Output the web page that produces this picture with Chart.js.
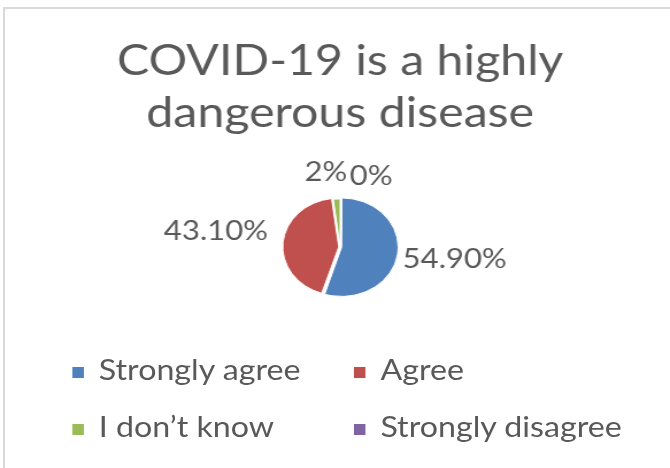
<!DOCTYPE html>
<html>
<head>
<meta charset="utf-8">
<script src="https://cdn.jsdelivr.net/npm/chart.js@4.4.1/dist/chart.umd.min.js"></script>
<style>
  html, body { margin: 0; padding: 0; background: #fff; }
  body { width: 670px; height: 468px; position: relative; overflow: hidden; font-family: Lato, sans-serif; }
  .frame { position: absolute; left: 3px; top: 7px; width: 700px; height: 500px;
           border-left: 2px solid #d9d9d9; border-top: 2px solid #d9d9d9; }
  /* the source picture is stretched sideways, so draw narrow and widen it */
  #stretch { position: absolute; left: 0; top: 0; width: 583px; height: 468px;
             transform: scaleX(1.1492); transform-origin: 0 0; }
  #chartBox { position: absolute; left: 0; top: 0; width: 583px; height: 468px; }
  #legend { position: absolute; left: 63px; top: 341px; display: grid;
            grid-template-columns: 245px auto; font-size: 28px; line-height: 57px; color: #595959; }
  #legend .sw { display: inline-block; width: 10px; height: 11px; margin-right: 13px; vertical-align: middle; }
</style>
</head>
<body>
<div class="frame"></div>
<div id="stretch">
  <div id="chartBox"><canvas id="pieChart" width="583" height="468"></canvas></div>
  <div id="legend"></div>
</div>
<script>
// chart data
const categories = ['Strongly agree', 'Agree', 'I don\u2019t know', 'Strongly disagree'];
const shares = [54.9, 43.1, 2, 0];
const pctLabels = ['54.90%', '43.10%', '2%', '0%'];
const sliceColors = ['#4F81BD', '#C0504D', '#9BBB59', '#8064A2'];

// small shifts so labels sit where Excel put them
const labelNudge = [[0, 4], [-8, -11], [-9, -20], [27, -16]];

// draw the percentage labels outside each slice
const pieLabels = {
    id: 'pieLabels',
    afterDatasetsDraw(chart) {
        const ctx = chart.ctx;
        const meta = chart.getDatasetMeta(0);
        ctx.save();
        ctx.font = '27px Lato';
        ctx.fillStyle = '#595959';
        ctx.textBaseline = 'middle';
        meta.data.forEach((arc, i) => {
            const p = arc.getProps(['x', 'y', 'startAngle', 'endAngle', 'outerRadius'], true);
            const mid = (p.startAngle + p.endAngle) / 2;
            const r = p.outerRadius + 7;
            const cx = Math.cos(mid), cy = Math.sin(mid);
            const x = p.x + cx * r + labelNudge[i][0];
            const y = p.y + cy * r + labelNudge[i][1];
            ctx.textAlign = cx > 0.3 ? 'left' : (cx < -0.3 ? 'right' : 'center');
            ctx.fillText(pctLabels[i], x, y);
        });
        ctx.restore();
    }
};

const pieChart = new Chart(document.getElementById('pieChart'), {
    type: 'pie',
    data: {
        labels: categories,
        datasets: [{
            data: shares,
            backgroundColor: sliceColors,
            borderColor: '#ffffff',
            borderWidth: 1,
            offset: [5, 5, 0, 0]
        }]
    },
    options: {
        responsive: false,
        animation: false,
        layout: { padding: { left: 9, right: 0, top: 0, bottom: 170 } },
        plugins: {
            legend: { display: false },
            tooltip: { enabled: false },
            title: {
                display: true,
                text: ['COVID-19 is a highly', 'dangerous disease'],
                color: '#595959',
                font: { family: 'Lato', size: 42, weight: 'normal', lineHeight: 1.25 },
                padding: { top: 35, bottom: 56 }
            }
        }
    },
    plugins: [pieLabels]
});

// legend in two columns, built from the chart's own legend items
const legendEl = document.getElementById('legend');
pieChart.options.plugins.legend.labels.generateLabels(pieChart).forEach(item => {
    const div = document.createElement('div');
    const sw = document.createElement('span');
    sw.className = 'sw';
    sw.style.background = item.fillStyle;
    div.appendChild(sw);
    div.appendChild(document.createTextNode(item.text));
    legendEl.appendChild(div);
});
</script>
</body>
</html>
